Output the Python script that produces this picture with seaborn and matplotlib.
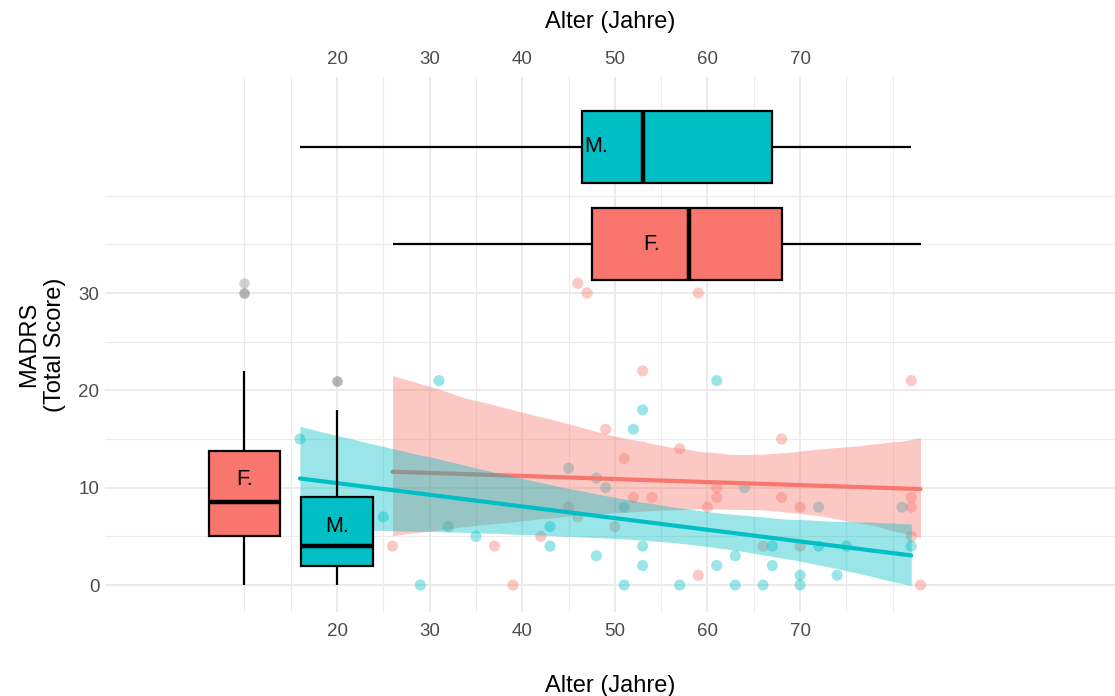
import numpy as np
import pandas as pd
import matplotlib
matplotlib.use("Agg")
import matplotlib.pyplot as plt
import seaborn as sns

# ---------------- data ----------------
f_age = [26, 37, 39, 42, 45, 46, 46, 47, 49, 50, 51, 52, 53, 54, 57,
         59, 59, 60, 61, 61, 66, 68, 68, 70, 70, 82, 82, 82, 82, 83]
f_madrs = [4, 4, 0, 5, 8, 31, 7, 30, 16, 6, 13, 9, 22, 9, 14,
           30, 1, 8, 10, 9, 4, 15, 9, 8, 4, 21, 9, 8, 5, 0]
m_age = [16, 25, 29, 31, 32, 35, 43, 43, 45, 48, 48, 49, 51, 51, 52,
         53, 53, 53, 57, 61, 61, 63, 63, 64, 66, 67, 67, 70, 70, 72,
         72, 74, 75, 81, 82]
m_madrs = [15, 7, 0, 21, 6, 5, 6, 4, 12, 11, 3, 10, 8, 0, 16,
           18, 4, 2, 0, 21, 2, 3, 0, 10, 0, 4, 2, 1, 0, 8,
           4, 1, 4, 8, 4]
groups = ["F", "M"]
group_labels = ["F.", "M."]
x_ticks = [20, 30, 40, 50, 60, 70]
y_ticks = [0, 10, 20, 30]
x_title = "Alter (Jahre)"
y_title = "MADRS\n(Total Score)"

palette = {"F": "#F8766D", "M": "#00BFC4"}
madrs_box_pos = {"F": 10, "M": 20}   # x position of the MADRS boxplots
age_box_pos = {"F": 35, "M": 45}     # y position of the age boxplots

df = pd.DataFrame({
    "age": f_age + m_age,
    "madrs": f_madrs + m_madrs,
    "sex": ["F"] * len(f_age) + ["M"] * len(m_age),
})
df["mpos"] = df["sex"].map(madrs_box_pos)
df["apos"] = df["sex"].map(age_box_pos)

# ---------------- style ----------------
sns.set_theme(style="white")
plt.rcParams["font.family"] = ["Liberation Sans", "DejaVu Sans"]

W, H = 1115, 696
fig = plt.figure(figsize=(W / 100, H / 100), dpi=100)
ax = fig.add_axes([105 / W, 1 - 612 / H, (W - 105) / W, (612 - 77) / H])

# scatter
sns.scatterplot(data=df, x="age", y="madrs", hue="sex", palette=palette,
                alpha=0.4, s=64, linewidth=0, legend=False, ax=ax, zorder=1)

# regression lines with confidence band
z = 2.0
for g in groups:
    sub = df[df["sex"] == g]
    n_coll = len(ax.collections)
    n_line = len(ax.lines)
    sns.regplot(data=sub, x="age", y="madrs", scatter=False, color=palette[g],
                ci=95, n_boot=3000, seed=3, truncate=True,
                line_kws={"linewidth": 3.0}, ax=ax)
    for c in ax.collections[n_coll:]:
        c.set_alpha(0.4)
        c.set_linewidth(0)
        c.set_zorder(z)
    for ln in ax.lines[n_line:]:
        ln.set_zorder(z + 0.05)
    z += 0.1

box_common = dict(hue="sex", palette=palette, native_scale=True, dodge=False,
                  saturation=1, linecolor="black", linewidth=1.6,
                  showcaps=False, legend=False, ax=ax,
                  medianprops=dict(linewidth=3.2, color="black"),
                  flierprops=dict(marker="o", markerfacecolor="#7f7f7f",
                                  markeredgecolor="none", markersize=7.5,
                                  alpha=0.35))

n_p, n_l = len(ax.patches), len(ax.lines)
sns.boxplot(data=df, x="mpos", y="madrs", orient="x", width=0.77, **box_common)
sns.boxplot(data=df, x="age", y="apos", orient="y", width=0.74, **box_common)
for p in ax.patches[n_p:]:
    p.set_zorder(3)
for ln in ax.lines[n_l:]:
    ln.set_zorder(3.1)

# group labels inside the boxes
txt_kw = dict(ha="center", va="center", fontsize=15.5, color="black", zorder=4)
ax.text(madrs_box_pos["F"], 10.8, group_labels[0], **txt_kw)
ax.text(madrs_box_pos["M"], 6.0, group_labels[1], **txt_kw)
ax.text(48, age_box_pos["M"], group_labels[1], **txt_kw)
ax.text(54, age_box_pos["F"], group_labels[0], **txt_kw)

# ---------------- axes ----------------
ax.set_xlim(-5.05, 104.0)
ax.set_ylim(-2.77, 52.19)
ax.set_xticks(x_ticks)
ax.set_xticks([10, 15, 25, 35, 45, 55, 65, 75, 80], minor=True)
ax.set_yticks(y_ticks)
ax.set_yticks([5, 15, 25, 35, 40], minor=True)
ax.grid(which="major", color="#EBEBEB", linewidth=1.4)
ax.grid(which="minor", color="#EBEBEB", linewidth=0.8)
ax.set_axisbelow(True)
for s in ax.spines.values():
    s.set_visible(False)
ax.tick_params(which="both", length=0)
ax.tick_params(axis="x", labelsize=13.5, labelcolor="#4D4D4D", pad=8)
ax.tick_params(axis="y", labelsize=13.5, labelcolor="#4D4D4D", pad=4)

ax.set_xlabel(x_title, fontsize=17, color="black", labelpad=25)
ax.set_ylabel(y_title, fontsize=17, color="black", labelpad=9)

sec = ax.secondary_xaxis("top")
sec.set_xticks(x_ticks)
sec.tick_params(length=0, labelsize=13.5, labelcolor="#4D4D4D", pad=6.5)
sec.set_xlabel(x_title, fontsize=17, color="black", labelpad=16.5)
for s in sec.spines.values():
    s.set_visible(False)

fig.savefig("out.png", dpi=100)
